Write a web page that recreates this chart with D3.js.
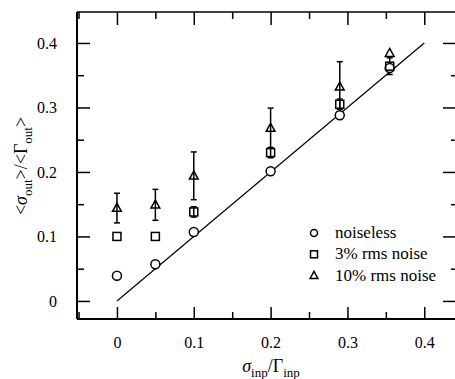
<!DOCTYPE html>
<html>
<head>
<meta charset="utf-8">
<script src="https://cdn.jsdelivr.net/npm/d3@7"></script>
<style>
  body { margin: 0; background: #fff; }
  svg, svg text { font-family: "Liberation Serif", "Times New Roman", Times, "DejaVu Serif", serif; }
</style>
</head>
<body>
<div id="chart"></div>
<script>
const width = 455;
const height = 379;

// values
const xs = [0, 0.05, 0.1, 0.2, 0.29, 0.355];
const noiseless = [0.039, 0.057, 0.107, 0.201, 0.288, 0.361];
const rms3 = [0.100, 0.100, 0.138, 0.230, 0.305, 0.364];
const rms3Err = [0, 0, 0.008, 0.008, 0.008, 0.013];
const rms10 = [0.144, 0.149, 0.194, 0.268, 0.332, 0.384];
const rms10Err = [0.023, 0.024, 0.037, 0.031, 0.039, 0];
const xTicks = [0, 0.1, 0.2, 0.3, 0.4];
const yTicks = [0, 0.1, 0.2, 0.3, 0.4];
const xMinor = [-0.05, 0.05, 0.15, 0.25, 0.35];
const yMinor = [0.05, 0.15, 0.25, 0.35];
const legendLabels = ["noiseless", "3% rms noise", "10% rms noise"];

const x = d3.scaleLinear().domain([-0.052, 0.44]).range([77, 455]);
const y = d3.scaleLinear().domain([-0.028, 0.448]).range([319, 12]);

const svg = d3.select("#chart").append("svg")
  .attr("width", width)
  .attr("height", height);

// frame
svg.append("line").attr("x1", x.range()[0]).attr("x2", x.range()[0])
  .attr("y1", y.range()[0]).attr("y2", y.range()[1])
  .attr("stroke", "#000").attr("stroke-width", 2);
svg.append("line").attr("x1", x.range()[0]).attr("x2", x.range()[1])
  .attr("y1", y.range()[0]).attr("y2", y.range()[0])
  .attr("stroke", "#000").attr("stroke-width", 2);
svg.append("line").attr("x1", x.range()[0]).attr("x2", x.range()[1])
  .attr("y1", y.range()[1]).attr("y2", y.range()[1])
  .attr("stroke", "#000").attr("stroke-width", 1.6);

const fmt = d => d === 0 ? "0" : d3.format(".1f")(d);

// axes with inward ticks
svg.append("g").attr("transform", `translate(0,${y.range()[0]})`)
  .call(d3.axisBottom(x).tickValues(xTicks).tickSize(-12).tickPadding(18).tickFormat(fmt));
svg.append("g").attr("transform", `translate(0,${y.range()[1]})`)
  .call(d3.axisTop(x).tickValues(xTicks).tickSize(-13).tickFormat(""));
svg.append("g").attr("transform", `translate(${x.range()[0]},0)`)
  .call(d3.axisLeft(y).tickValues(yTicks).tickSize(-13).tickPadding(20).tickFormat(fmt));
svg.append("g").attr("transform", `translate(${x.range()[1]},0)`)
  .call(d3.axisRight(y).tickValues(yTicks).tickSize(-12).tickFormat(""));

svg.append("g").attr("transform", `translate(0,${y.range()[0]})`)
  .call(d3.axisBottom(x).tickValues(xMinor).tickSize(-7).tickFormat(""));
svg.append("g").attr("transform", `translate(0,${y.range()[1]})`)
  .call(d3.axisTop(x).tickValues(xMinor).tickSize(-7).tickFormat(""));
svg.append("g").attr("transform", `translate(${x.range()[0]},0)`)
  .call(d3.axisLeft(y).tickValues(yMinor).tickSize(-7).tickFormat(""));
svg.append("g").attr("transform", `translate(${x.range()[1]},0)`)
  .call(d3.axisRight(y).tickValues(yMinor).tickSize(-4).tickFormat(""));

svg.selectAll("g").attr("font-family", null);
svg.selectAll(".domain").remove();
svg.selectAll(".tick line").attr("stroke", "#000").attr("stroke-width", 1.5);
svg.selectAll(".tick text").attr("fill", "#000").style("font-size", "16px");

// diagonal y = x
svg.append("line")
  .attr("x1", x(0)).attr("y1", y(0))
  .attr("x2", x(0.4)).attr("y2", y(0.4))
  .attr("stroke", "#000").attr("stroke-width", 1.2);

// error bars
function errorBars(vals, errs) {
  const data = xs.map((d, i) => ({ x: d, v: vals[i], e: errs[i] })).filter(d => d.e > 0);
  const g = svg.append("g").attr("stroke", "#000").attr("stroke-width", 1.5);
  g.selectAll(".v").data(data).enter().append("line")
    .attr("x1", d => x(d.x)).attr("x2", d => x(d.x))
    .attr("y1", d => y(d.v - d.e)).attr("y2", d => y(d.v + d.e));
  [-1, 1].forEach(s => {
    g.selectAll(".c" + (s + 1)).data(data).enter().append("line")
      .attr("x1", d => x(d.x) - 3).attr("x2", d => x(d.x) + 3)
      .attr("y1", d => y(d.v + s * d.e)).attr("y2", d => y(d.v + s * d.e));
  });
}
errorBars(rms10, rms10Err);
errorBars(rms3, rms3Err);

function circles(g, data, r) {
  g.selectAll("circle").data(data).enter().append("circle")
    .attr("cx", d => d[0]).attr("cy", d => d[1]).attr("r", r)
    .attr("fill", "#fff").attr("stroke", "#000").attr("stroke-width", 1.5);
}
function squares(g, data, s) {
  g.selectAll("rect").data(data).enter().append("rect")
    .attr("x", d => d[0] - s / 2).attr("y", d => d[1] - s / 2)
    .attr("width", s).attr("height", s)
    .attr("fill", "none").attr("stroke", "#000").attr("stroke-width", 1.5);
}
function triangles(g, data, s) {
  g.selectAll("path").data(data).enter().append("path")
    .attr("d", `M0,${-s * 0.6}L${s * 0.55},${s * 0.4}L${-s * 0.55},${s * 0.4}Z`)
    .attr("transform", d => `translate(${d[0]},${d[1]})`)
    .attr("fill", "none").attr("stroke", "#000").attr("stroke-width", 1.5);
}

circles(svg.append("g"), xs.map((d, i) => [x(d), y(noiseless[i])]), 4.5);
squares(svg.append("g"), xs.map((d, i) => [x(d), y(rms3[i])]), 8);
triangles(svg.append("g"), xs.map((d, i) => [x(d), y(rms10[i])]), 8);

// legend
const rowGap = 21.3;
const legend = svg.append("g").attr("transform", "translate(314,233)");
circles(legend.append("g"), [[0, 0]], 3.5);
squares(legend.append("g"), [[0, rowGap]], 7);
triangles(legend.append("g"), [[0, 2 * rowGap]], 7);
legend.selectAll("text").data(legendLabels).enter().append("text")
  .attr("x", 21).attr("y", (d, i) => i * rowGap + 5)
  .style("font-size", "17px")
  .text(d => d);

// axis titles
const xt = svg.append("text").attr("x", 271).attr("y", 372)
  .attr("text-anchor", "middle").style("font-size", "18px");
xt.append("tspan").style("font-style", "italic").text("σ");
xt.append("tspan").attr("dy", 5).style("font-size", "13px").text("inp");
xt.append("tspan").attr("dy", -5).text("/Γ");
xt.append("tspan").attr("dy", 5).style("font-size", "13px").text("inp");

const yt = svg.append("text").attr("transform", "translate(27,166) rotate(-90)")
  .attr("text-anchor", "middle").style("font-size", "18px");
yt.append("tspan").text("<");
yt.append("tspan").style("font-style", "italic").text("σ");
yt.append("tspan").attr("dy", 5).style("font-size", "13px").text("out");
yt.append("tspan").attr("dy", -5).text(">/<Γ");
yt.append("tspan").attr("dy", 5).style("font-size", "13px").text("out");
yt.append("tspan").attr("dy", -5).text(">");
</script>
</body>
</html>
